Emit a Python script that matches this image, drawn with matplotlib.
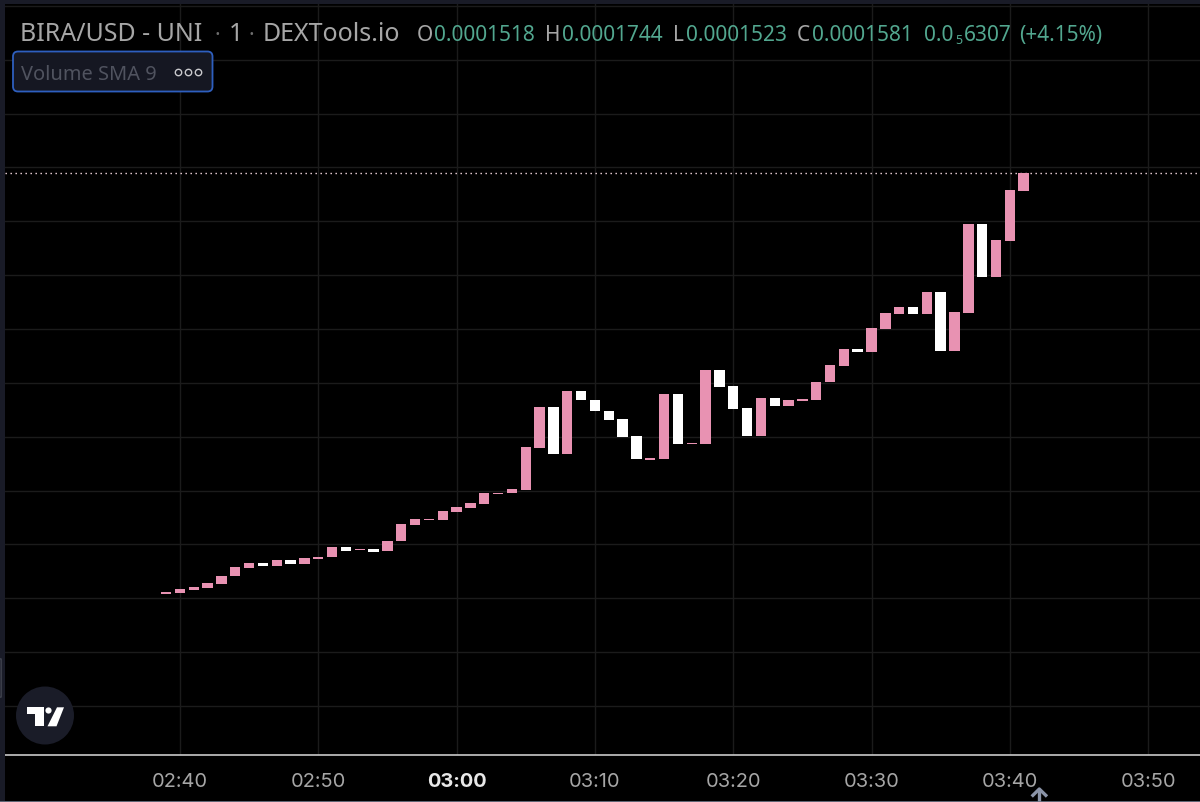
import matplotlib
matplotlib.use("Agg")
import matplotlib.pyplot as plt
from matplotlib.patches import FancyBboxPatch, Circle, Polygon, Rectangle

# minutes after 02:40; prices in units of 1e-4
first_minute = -1
opens = [0.0174, 0.0211, 0.0311, 0.0371, 0.0534, 0.0816, 0.1139, 0.1325, 0.1202, 0.1410,
         0.1262, 0.1448, 0.1522, 0.1893, 0.1782, 0.1845, 0.1745, 0.2131, 0.2725, 0.2911,
         0.2922, 0.3219, 0.3367, 0.3516, 0.3887, 0.3898, 0.4025, 0.5569, 0.7107, 0.5347,
         0.7686, 0.7378, 0.6969, 0.6661, 0.6015, 0.5150, 0.5168, 0.7601, 0.5718, 0.5733,
         0.8492, 0.7898, 0.7070, 0.6041, 0.7452, 0.7155, 0.7341, 0.7352, 0.8020, 0.8614,
         0.9260, 0.9134, 1.0014, 1.0560, 1.0820, 1.0560, 1.1388, 0.9186, 1.0597, 1.3887,
         1.1945, 1.3282, 1.5127]
closes = [0.0248, 0.0349, 0.0408, 0.0571, 0.0842, 0.1165, 0.1325, 0.1202, 0.1425, 0.1262,
          0.1485, 0.1548, 0.1893, 0.1771, 0.1834, 0.1734, 0.2142, 0.2747, 0.2933, 0.2948,
          0.3256, 0.3393, 0.3542, 0.3924, 0.3924, 0.4062, 0.5606, 0.7092, 0.5347, 0.7686,
          0.7352, 0.6943, 0.6624, 0.5978, 0.5161, 0.5213, 0.7601, 0.5733, 0.5781, 0.8492,
          0.7861, 0.7032, 0.6041, 0.7441, 0.7155, 0.7378, 0.7389, 0.8046, 0.8651, 0.9245,
          0.9134, 1.0051, 1.0582, 1.0805, 1.0560, 1.1377, 0.9186, 1.0620, 1.3887, 1.1945,
          1.3319, 1.5150, 1.5796]
time_ticks = [0, 10, 20, 30, 40, 50, 60, 70]
time_labels = ["02:40", "02:50", "03:00", "03:10", "03:20", "03:30", "03:40", "03:50"]
price_ticks = [-0.4, -0.2, 0.0, 0.2, 0.4, 0.6, 0.8, 1.0, 1.2, 1.4, 1.6, 1.8, 2.0, 2.2]

PINK = "#E892B2"
WHITE = "#FFFFFF"
GRID = "#1B1B1B"
GREY = "#A6A6A6"
TEAL = "#52A78F"
STRIP = "#191B27"

W, H = 1200, 803
fig = plt.figure(figsize=(12, 8.03), dpi=100, facecolor="black")
ax = fig.add_axes([5 / W, (H - 755.6) / H, 1195 / W, 750.5 / H], facecolor="black")
ax.set_xlim(-12.65, 73.75)
ax.set_ylim(-0.5804, 2.2064)

minutes = [first_minute + i for i in range(len(opens))]
heights = [c - o for o, c in zip(opens, closes)]
colors = [PINK if c >= o else WHITE for o, c in zip(opens, closes)]
ax.bar(minutes, heights, bottom=opens, width=0.75, color=colors, linewidth=0, zorder=3)

ax.set_xticks(time_ticks, time_labels, fontfamily="Inter", fontsize=14.4, color=GREY)
ax.set_yticks(price_ticks)
ax.tick_params(axis="both", length=0, pad=12.5)
ax.tick_params(axis="y", labelleft=False)
ax.get_xticklabels()[2].set_fontweight("bold")
ax.get_xticklabels()[2].set_color("#E8E8E8")
ax.grid(True, color=GRID, linewidth=1.0, zorder=0)
ax.set_axisbelow(True)
for side in ("top", "left", "right"):
    ax.spines[side].set_visible(False)
ax.spines["bottom"].set_color("#C9C9C9")
ax.spines["bottom"].set_linewidth(1.2)
ax.axhline(closes[-1], color="#F8DCE4", linewidth=1.0, linestyle=(0, (1, 2.6)), zorder=2)

# pixel-coordinate overlay for the interface furniture
ov = fig.add_axes([0, 0, 1, 1], facecolor="none")
ov.set_xlim(0, W)
ov.set_ylim(H, 0)
ov.axis("off")
ov.add_patch(Rectangle((0, 0), W, 4.5, color=STRIP, lw=0))
ov.add_patch(Rectangle((0, 0), 5, H, color=STRIP, lw=0))
ov.add_patch(Rectangle((0, 801.5), W, 1.5, color="#5E6675", lw=0))
ov.add_patch(FancyBboxPatch((0, 660), 1.5, 38, boxstyle="round,pad=0,rounding_size=1.5",
                            fc="none", ec="#3A3D48", lw=0.8))

FONT = "Noto Sans"
BASE = 40.7
title_pieces = [(20, "BIRA/USD - UNI"), (229, "1"), (263, "DEXTools.io")]
for x, s in title_pieces:
    ov.text(x, BASE, s, color=GREY, fontsize=18, family=FONT, va="baseline", ha="left")
for x in (214, 248):
    ov.text(x, BASE, "·", color="#6E6E6E", fontsize=15, family=FONT, va="baseline", ha="left")
pieces = [
    (417, "O", GREY), (434, "0.0001518", TEAL),
    (545, "H", GREY), (562, "0.0001744", TEAL),
    (673, "L", GREY), (686, "0.0001523", TEAL),
    (797, "C", GREY), (812, "0.0001581", TEAL),
    (924, "0.0", TEAL), (963.5, "6307", TEAL), (1019, "(+4.15%)", TEAL),
]
for x, s, c in pieces:
    ov.text(x, BASE, s, color=c, fontsize=15, family=FONT, va="baseline", ha="left")
ov.text(955.5, 44, "5", color=TEAL, fontsize=9, family=FONT, va="baseline", ha="left")

ov.add_patch(FancyBboxPatch((13, 52.5), 199.5, 40, boxstyle="round,pad=0,rounding_size=5",
                            fc="#151722", ec="#2E5FBF", lw=1.3))
ov.text(21, 80, "Volume SMA 9", color="#50535F", fontsize=14.4, family=FONT, va="baseline", ha="left")
ov.plot([178, 188, 198], [73, 73, 73], linestyle="none", marker="o", ms=4.6, mfc="none",
        mec="#C8C8CC", mew=1.0)

# TradingView badge
ov.add_patch(Circle((45, 716.5), 29, fc="#1A1C28", ec="none"))
ov.add_patch(Polygon([(27.3, 708.3), (44, 708.3), (44, 727.3), (35, 727.3), (35, 715), (27.3, 715)],
                     fc="white", ec="none"))
ov.add_patch(Circle((48.5, 711.5), 3.1, fc="white", ec="none"))
ov.add_patch(Polygon([(57, 708.3), (64, 708.3), (56.5, 727.3), (47.5, 727.3)], fc="white", ec="none"))

# scroll arrow
ov.plot([1031.7, 1039.3, 1047], [797.5, 790, 797.5], color="#8B94A8", lw=2.4, solid_capstyle="butt")
ov.plot([1039.3, 1039.3], [790.5, 802], color="#8B94A8", lw=2.4, solid_capstyle="butt")

fig.savefig("out.png", dpi=100, facecolor="black")
